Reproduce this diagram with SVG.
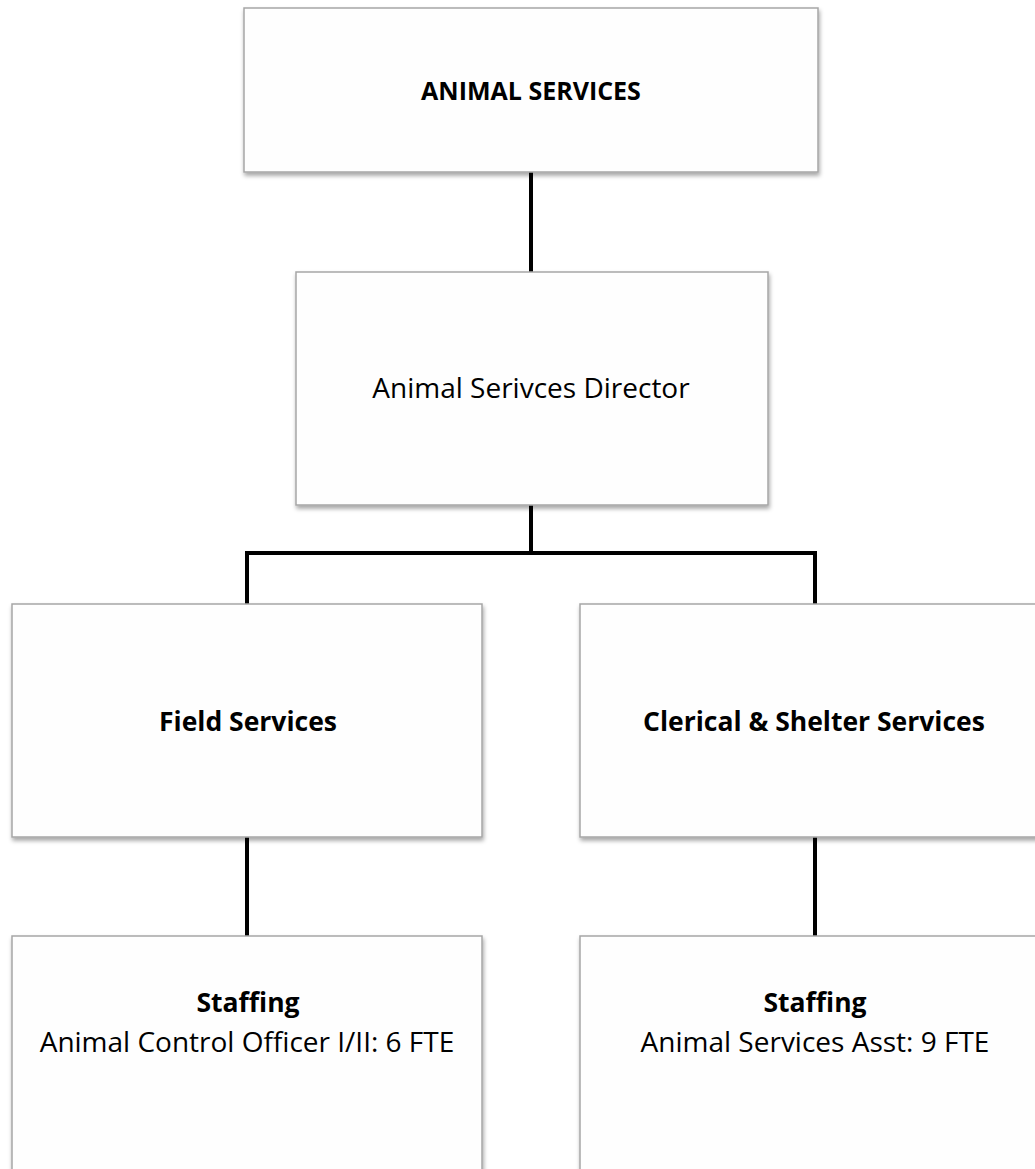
<svg xmlns="http://www.w3.org/2000/svg" width="1035" height="1169" viewBox="0 0 1035 1169">
<defs>
<filter id="sh" x="-5%" y="-5%" width="110%" height="115%">
<feDropShadow dx="1" dy="3" stdDeviation="2" flood-color="#000" flood-opacity="0.35"/>
</filter>
<style>
.box{fill:#fefefe;stroke:#a6a6a6;stroke-width:1.5;filter:url(#sh)}
.t{font-family:"Open Sans","Noto Sans",sans-serif;fill:#000;text-anchor:middle}
.b{font-weight:bold}
.r{font-size:28px}
.s{font-size:26.5px}
.c{fill:none;stroke:#000;stroke-width:4}
</style>
</defs>
<rect width="1035" height="1169" fill="#fff"/>
<g id="connectors">
<line class="c" x1="531" y1="172" x2="531" y2="272"/>
<polyline class="c" points="247,604 247,553 815,553 815,604"/>
<line class="c" x1="531" y1="505" x2="531" y2="553"/>
<line class="c" x1="247" y1="837" x2="247" y2="936"/>
<line class="c" x1="815" y1="837" x2="815" y2="936"/>
</g>
<g id="animal-services">
<rect class="box" x="244" y="8" width="574" height="164"/>
<text class="t b" x="531" y="100" font-size="25">ANIMAL SERVICES</text>
</g>
<g id="director">
<rect class="box" x="296" y="272" width="472" height="233"/>
<text class="t r" x="531" y="398">Animal Serivces Director</text>
</g>
<g id="field-services">
<rect class="box" x="12" y="604" width="470" height="233"/>
<text class="t b s" x="248" y="731">Field Services</text>
</g>
<g id="clerical-shelter">
<rect class="box" x="580" y="604" width="470" height="233"/>
<text class="t b s" x="814" y="731">Clerical &amp; Shelter Services</text>
</g>
<g id="field-staffing">
<rect class="box" x="12" y="936" width="470" height="260"/>
<text class="t b s" x="248" y="1012">Staffing</text>
<text class="t r" x="247" y="1052">Animal Control Officer I/II: 6 FTE</text>
</g>
<g id="clerical-staffing">
<rect class="box" x="580" y="936" width="470" height="260"/>
<text class="t b s" x="815" y="1012">Staffing</text>
<text class="t r" x="815" y="1052">Animal Services Asst: 9 FTE</text>
</g>
</svg>
